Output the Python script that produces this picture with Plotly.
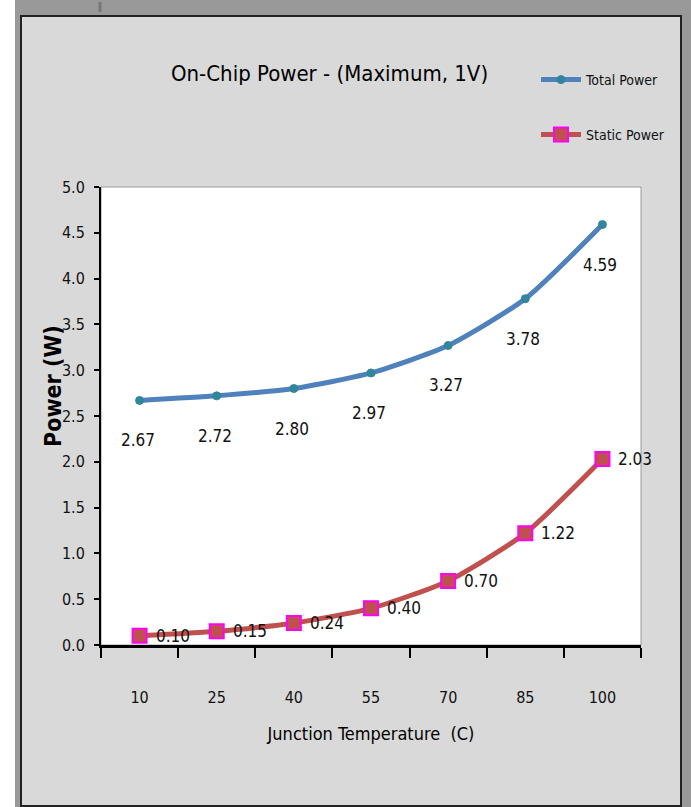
import plotly.graph_objects as go

temps = ["10", "25", "40", "55", "70", "85", "100"]
total_power = [2.67, 2.72, 2.80, 2.97, 3.27, 3.78, 4.59]
static_power = [0.10, 0.15, 0.24, 0.40, 0.70, 1.22, 2.03]
y_ticks = [0.0, 0.5, 1.0, 1.5, 2.0, 2.5, 3.0, 3.5, 4.0, 4.5, 5.0]

W, H = 691, 807
L, R, T, B = 101, 641, 187, 645
FONT = "DejaVu Sans Condensed, Liberation Sans Narrow, Arial Narrow, Liberation Sans, Arial, sans-serif"


def px(x):
    return (x - L) / (R - L)


def py(y):
    return (B - y) / (B - T)


fig = go.Figure()
fig.add_trace(go.Scatter(
    x=temps, y=total_power, name="Total Power", mode="lines+markers",
    line=dict(color="#4F81BD", width=5, shape="spline", smoothing=0.6),
    marker=dict(symbol="circle", size=8, color="#31859C",
                line=dict(color="#31859C", width=1)),
    legend="legend",
))
fig.add_trace(go.Scatter(
    x=temps, y=static_power, name="Static Power", mode="lines+markers",
    line=dict(color="#C0504D", width=5, shape="spline", smoothing=0.6),
    marker=dict(symbol="square", size=14, color="#C0504D",
                line=dict(color="#FF00FF", width=2)),
    legend="legend2",
))

annotations = []
for i, v in enumerate(total_power):
    annotations.append(dict(x=i, y=v, xref="x", yref="y", text=f"{v:.2f}",
                            showarrow=False, yshift=-40, xshift=-2,
                            font=dict(family=FONT, size=17, color="#111")))
for i, v in enumerate(static_power):
    annotations.append(dict(x=i, y=v, xref="x", yref="y", text=f"{v:.2f}",
                            showarrow=False, xanchor="left", xshift=14,
                            font=dict(family=FONT, size=17, color="#111")))
annotations.append(dict(x=px(329), y=py(74), xref="paper", yref="paper",
                        xanchor="center", yanchor="middle",
                        text="On-Chip Power - (Maximum, 1V)", showarrow=False,
                        font=dict(family=FONT, size=22, color="#000")))
annotations.append(dict(x=px(53), y=py(386), xref="paper", yref="paper",
                        xanchor="center", yanchor="middle", textangle=-90,
                        text="<b>Power (W)</b>", showarrow=False,
                        font=dict(family=FONT, size=23, color="#000")))

shapes = [
    dict(type="rect", xref="paper", yref="paper", x0=px(15), x1=px(691),
         y0=py(807), y1=py(0), fillcolor="#999999", line=dict(width=0), layer="below"),
    dict(type="rect", xref="paper", yref="paper", x0=px(21), x1=px(681),
         y0=py(806), y1=py(16), fillcolor="#D9D9D9",
         line=dict(color="#222222", width=2), layer="below"),
    dict(type="line", xref="paper", yref="paper", x0=px(100), x1=px(100),
         y0=py(12), y1=py(2), line=dict(color="#777777", width=3), layer="below"),
    dict(type="rect", xref="paper", yref="paper", x0=0, x1=1, y0=0, y1=1,
         fillcolor="#FFFFFF", line=dict(color="#9A9A9A", width=1), layer="below"),
]

fig.update_layout(
    width=W, height=H,
    margin=dict(l=L, r=W - R, t=T, b=H - B, pad=0),
    paper_bgcolor="#FFFFFF", plot_bgcolor="rgba(0,0,0,0)",
    font=dict(family=FONT, size=15, color="#111"),
    showlegend=True,
    legend=dict(x=px(536), y=py(80), xanchor="left", yanchor="middle",
                bgcolor="rgba(0,0,0,0)", font=dict(family=FONT, size=14, color="#111"),
                itemwidth=40),
    legend2=dict(x=px(536), y=py(135), xanchor="left", yanchor="middle",
                 bgcolor="rgba(0,0,0,0)", font=dict(family=FONT, size=14, color="#111"),
                 itemwidth=40),
    xaxis=dict(type="category", range=[-0.5, 6.5], tickson="boundaries",
               ticks="outside", ticklen=10, tickwidth=2, tickcolor="#000",
               showline=True, linecolor="#000", linewidth=3, showgrid=False,
               zeroline=False, ticklabelstandoff=36,
               tickfont=dict(family=FONT, size=16, color="#111"),
               title=dict(text="Junction Temperature  (C)", standoff=22,
                          font=dict(family=FONT, size=18, color="#000"))),
    yaxis=dict(range=[0, 5], tickvals=y_ticks, tickformat=".1f",
               ticks="outside", ticklen=5, tickwidth=2, tickcolor="#000",
               showline=True, linecolor="#000", linewidth=2, showgrid=False,
               zeroline=False, ticklabelstandoff=6,
               tickfont=dict(family=FONT, size=16, color="#111")),
    annotations=annotations,
    shapes=shapes,
)

fig.write_html("out.html", config={"displayModeBar": False},
               post_script="document.body.style.margin='0px';document.body.style.overflow='hidden';")
